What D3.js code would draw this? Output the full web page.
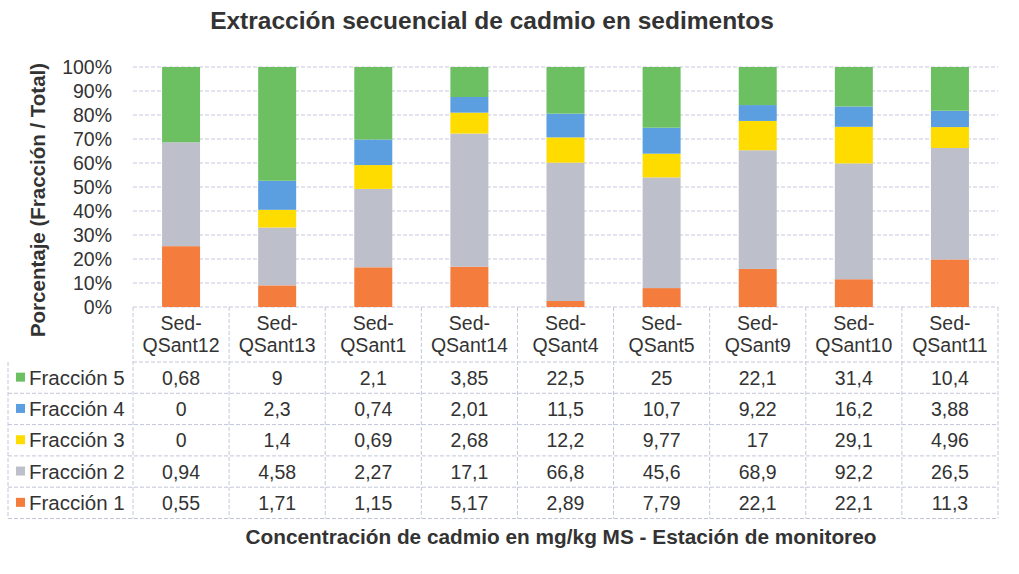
<!DOCTYPE html>
<html>
<head>
<meta charset="utf-8">
<script src="https://cdn.jsdelivr.net/npm/d3@7"></script>
<style>
  body { margin: 0; background: #fff; }
  svg text { font-family: "Liberation Sans", Arial, sans-serif; }
</style>
</head>
<body>
<div id="chart"></div>
<script>
const stations = ["Sed-QSant12", "Sed-QSant13", "Sed-QSant1", "Sed-QSant14", "Sed-QSant4", "Sed-QSant5", "Sed-QSant9", "Sed-QSant10", "Sed-QSant11"]
const fractions = ["Fracción 1", "Fracción 2", "Fracción 3", "Fracción 4", "Fracción 5"]
const frac1 = [0.55, 1.71, 1.15, 5.17, 2.89, 7.79, 22.1, 22.1, 11.3]
const frac2 = [0.94, 4.58, 2.27, 17.1, 66.8, 45.6, 68.9, 92.2, 26.5]
const frac3 = [0, 1.4, 0.69, 2.68, 12.2, 9.77, 17, 29.1, 4.96]
const frac4 = [0, 2.3, 0.74, 2.01, 11.5, 10.7, 9.22, 16.2, 3.88]
const frac5 = [0.68, 9, 2.1, 3.85, 22.5, 25, 22.1, 31.4, 10.4]
const colors = ["#f47c3c", "#bdbfcb", "#ffdc00", "#5b9fe0", "#6cc062"]

const series = [frac1, frac2, frac3, frac4, frac5]
const width = 1019, height = 574
const margin = { left: 133, right: 21, top: 67 }
const plotBottom = 307
const rowH = 31.3
const headH = 55

const svg = d3.select("#chart").append("svg").attr("width", width).attr("height", height)

// stacked shares
const rows = stations.map((s, i) => {
    let item = { station: s }
    fractions.forEach((f, k) => item[f] = series[k][i])
    return item
})
const stack = d3.stack().keys(fractions).offset(d3.stackOffsetExpand)
const stacked = stack(rows)

const x = d3.scaleBand().domain(stations).range([margin.left, width - margin.right])
const y = d3.scaleLinear().domain([0, 1]).range([plotBottom, margin.top])

// gridlines
svg.append("g")
    .selectAll("line")
    .data(y.ticks(10))
    .join("line")
    .attr("x1", margin.left)
    .attr("x2", width - margin.right)
    .attr("y1", d => y(d))
    .attr("y2", d => y(d))
    .attr("stroke", "#c5c7de")
    .attr("stroke-dasharray", "4,2")

// y axis labels
svg.append("g")
    .selectAll("text")
    .data(y.ticks(10))
    .join("text")
    .attr("x", 112)
    .attr("y", d => y(d) + 7)
    .attr("text-anchor", "end")
    .attr("font-size", 19.5)
    .attr("fill", "#333")
    .text(d3.format(".0%"))

// bars
const barW = 38
svg.append("g")
    .selectAll("g")
    .data(stacked)
    .join("g")
    .attr("fill", (d, i) => colors[i])
    .selectAll("rect")
    .data(d => d)
    .join("rect")
    .attr("x", d => x(d.data.station) + x.bandwidth() / 2 - barW / 2)
    .attr("y", d => y(d[1]))
    .attr("width", barW)
    .attr("height", d => y(d[0]) - y(d[1]))

// data table
const table = svg.append("g").attr("fill", "#333").attr("font-size", 19.5)
const tableTop = plotBottom
const tableBottom = tableTop + headH + rowH * 5
const lineColor = "#c3c6da"

// vertical lines
table.selectAll(".vline")
    .data(stations.concat(["end"]))
    .join("line")
    .attr("x1", (d, i) => margin.left + i * x.bandwidth())
    .attr("x2", (d, i) => margin.left + i * x.bandwidth())
    .attr("y1", tableTop)
    .attr("y2", tableBottom)
    .attr("stroke", lineColor)
    .attr("stroke-dasharray", "4,2")
table.append("line")
    .attr("x1", 8).attr("x2", 8)
    .attr("y1", tableTop + headH).attr("y2", tableBottom)
    .attr("stroke", lineColor).attr("stroke-dasharray", "4,2")

// horizontal lines
const hl = [0, 1, 2, 3, 4, 5]
table.selectAll(".hline")
    .data(hl)
    .join("line")
    .attr("x1", d => d === 0 ? margin.left : 8)
    .attr("x2", width - margin.right)
    .attr("y1", d => tableTop + headH + d * rowH)
    .attr("y2", d => tableTop + headH + d * rowH)
    .attr("stroke", lineColor)
    .attr("stroke-dasharray", "4,2")

// header labels
stations.forEach(s => {
    const cx = x(s) + x.bandwidth() / 2
    const parts = s.split("-")
    table.append("text").attr("x", cx).attr("y", tableTop + 23).attr("text-anchor", "middle").text(parts[0] + "-")
    table.append("text").attr("x", cx).attr("y", tableTop + 45).attr("text-anchor", "middle").text(parts[1])
})

// rows, top row is Fracción 5
const order = [4, 3, 2, 1, 0]
order.forEach((k, r) => {
    const cy = tableTop + headH + r * rowH + rowH / 2
    table.append("rect")
        .attr("x", 16).attr("y", cy - 5).attr("width", 9).attr("height", 9)
        .attr("fill", colors[k])
    table.append("text").attr("x", 29).attr("y", cy + 7).attr("font-size", 20.5).text(fractions[k])
    table.selectAll(".v" + k)
        .data(series[k])
        .join("text")
        .attr("x", (d, i) => x(stations[i]) + x.bandwidth() / 2)
        .attr("y", cy + 7)
        .attr("text-anchor", "middle")
        .text(d => String(d).replace(".", ","))
})

// titles
svg.append("text")
    .attr("x", 492)
    .attr("y", 29)
    .attr("text-anchor", "middle")
    .attr("font-size", 24.5)
    .attr("font-weight", "bold")
    .attr("fill", "#333")
    .text("Extracción secuencial de cadmio en sedimentos")

svg.append("text")
    .attr("transform", "translate(45,200) rotate(-90)")
    .attr("text-anchor", "middle")
    .attr("font-size", 20.5)
    .attr("font-weight", "bold")
    .attr("fill", "#333")
    .text("Porcentaje (Fracción / Total)")

svg.append("text")
    .attr("x", 561)
    .attr("y", 544)
    .attr("text-anchor", "middle")
    .attr("font-size", 20.8)
    .attr("font-weight", "bold")
    .attr("fill", "#333")
    .text("Concentración de cadmio en mg/kg MS - Estación de monitoreo")
</script>
</body>
</html>
